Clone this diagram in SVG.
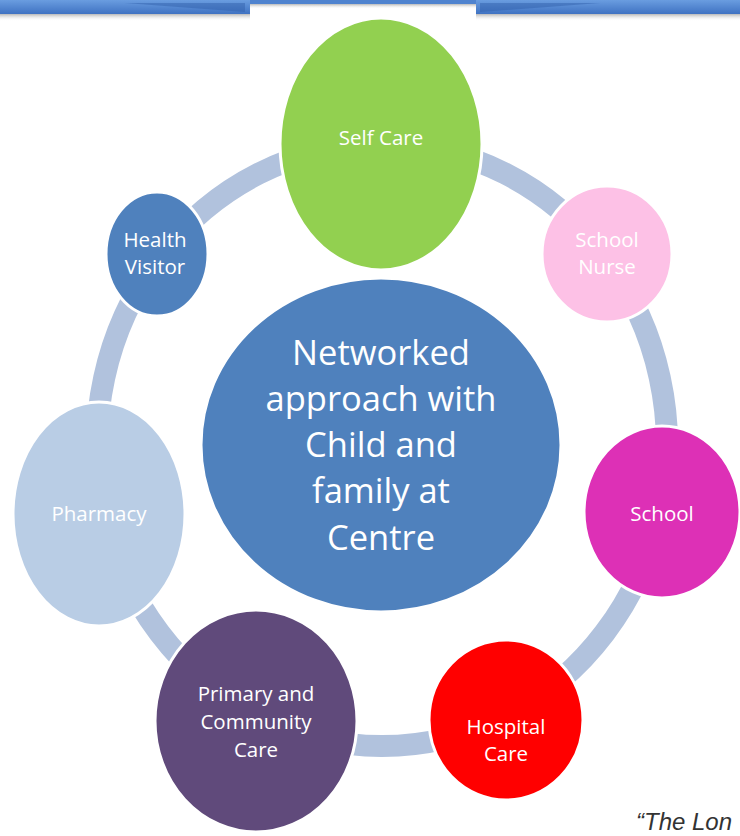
<svg xmlns="http://www.w3.org/2000/svg" width="740" height="836" viewBox="0 0 740 836">
  <defs>
    <linearGradient id="bar" x1="0" y1="0" x2="0" y2="1">
      <stop offset="0" stop-color="#6a9de0"/>
      <stop offset="1" stop-color="#3f72c2"/>
    </linearGradient>
    <linearGradient id="shadow" x1="0" y1="0" x2="0" y2="1">
      <stop offset="0" stop-color="#9a9a9a" stop-opacity="0.7"/>
      <stop offset="1" stop-color="#ffffff" stop-opacity="0"/>
    </linearGradient>
    <style>
      .node { stroke: #ffffff; stroke-width: 3; }
      .lbl { font-family: "Open Sans", "Noto Sans", sans-serif; font-size: 20.5px; fill: #ffffff; text-anchor: middle; }
      .big { font-family: "Open Sans", "Noto Sans", sans-serif; font-size: 34.5px; fill: #ffffff; text-anchor: middle; }
      .link { fill: none; stroke: #b1c2dd; stroke-width: 22; }
    </style>
  </defs>

  <!-- top banner -->
  <g id="banner">
    <rect x="0" y="14" width="250" height="7" fill="url(#shadow)"/>
    <rect x="476" y="14" width="264" height="7" fill="url(#shadow)"/>
    <rect x="250" y="4" width="226" height="5" fill="url(#shadow)"/>
    <rect x="0" y="0" width="740" height="4" fill="#4f83cf"/>
    <rect x="0" y="0" width="250" height="14" fill="url(#bar)"/>
    <rect x="476" y="0" width="264" height="14" fill="url(#bar)"/>
    <polygon points="125,3 245,3 245,12" fill="#2f5ea8" opacity="0.45"/>
    <polygon points="600,3 480,3 480,12" fill="#2f5ea8" opacity="0.45"/>
  </g>

  <!-- connectors -->
  <g id="connectors">
    <path class="link" d="M159.9,256.4 A285,301 0 0 1 382,144"/>
    <path class="link" d="M382,144 A285,301 0 0 1 604.1,256.4"/>
    <path class="link" d="M604.1,256.4 A285,301 0 0 1 659.9,511.7"/>
    <path class="link" d="M659.9,511.7 A285,301 0 0 1 504.7,716.7"/>
    <path class="link" d="M504.7,716.7 A285,301 0 0 1 258.4,716.2"/>
    <path class="link" d="M258.4,716.2 A285,301 0 0 1 104.3,512.7"/>
    <path class="link" d="M104.3,512.7 A285,301 0 0 1 159.9,256.4"/>
  </g>

  <g id="self-care">
    <ellipse class="node" cx="381" cy="144" rx="101" ry="126" fill="#92d050"/>
    <text class="lbl" x="381" y="145">Self Care</text>
  </g>

  <g id="school-nurse">
    <ellipse class="node" cx="607" cy="254" rx="65" ry="68" fill="#fdc1e6"/>
    <text class="lbl" x="607" y="247">School</text>
    <text class="lbl" x="607" y="274">Nurse</text>
  </g>

  <g id="school">
    <ellipse class="node" cx="662" cy="512" rx="78" ry="86" fill="#dd30b6"/>
    <text class="lbl" x="662" y="521">School</text>
  </g>

  <g id="hospital-care">
    <ellipse class="node" cx="506" cy="720" rx="77" ry="80" fill="#ff0000"/>
    <text class="lbl" x="506" y="734">Hospital</text>
    <text class="lbl" x="506" y="761">Care</text>
  </g>

  <g id="primary-community-care">
    <ellipse class="node" cx="256" cy="721" rx="101" ry="111" fill="#604a7b"/>
    <text class="lbl" x="256" y="701">Primary and</text>
    <text class="lbl" x="256" y="729">Community</text>
    <text class="lbl" x="256" y="757">Care</text>
  </g>

  <g id="pharmacy">
    <ellipse class="node" cx="99" cy="514" rx="86" ry="112" fill="#b9cde5"/>
    <text class="lbl" x="99" y="521">Pharmacy</text>
  </g>

  <g id="health-visitor">
    <ellipse class="node" cx="157" cy="254" rx="51" ry="62" fill="#4f81bd"/>
    <text class="lbl" x="155" y="247">Health</text>
    <text class="lbl" x="155" y="274">Visitor</text>
  </g>

  <g id="centre">
    <ellipse class="node" cx="381" cy="445" rx="180" ry="167" fill="#4f81bd"/>
    <text class="big" x="381" y="365">Networked</text>
    <text class="big" x="381" y="411">approach with</text>
    <text class="big" x="381" y="457">Child and</text>
    <text class="big" x="381" y="503">family at</text>
    <text class="big" x="381" y="550">Centre</text>
  </g>

  <text x="636" y="830" font-family="Liberation Sans, Arial, sans-serif" font-style="italic" font-size="24" fill="#333333">“The Lon</text>
</svg>
